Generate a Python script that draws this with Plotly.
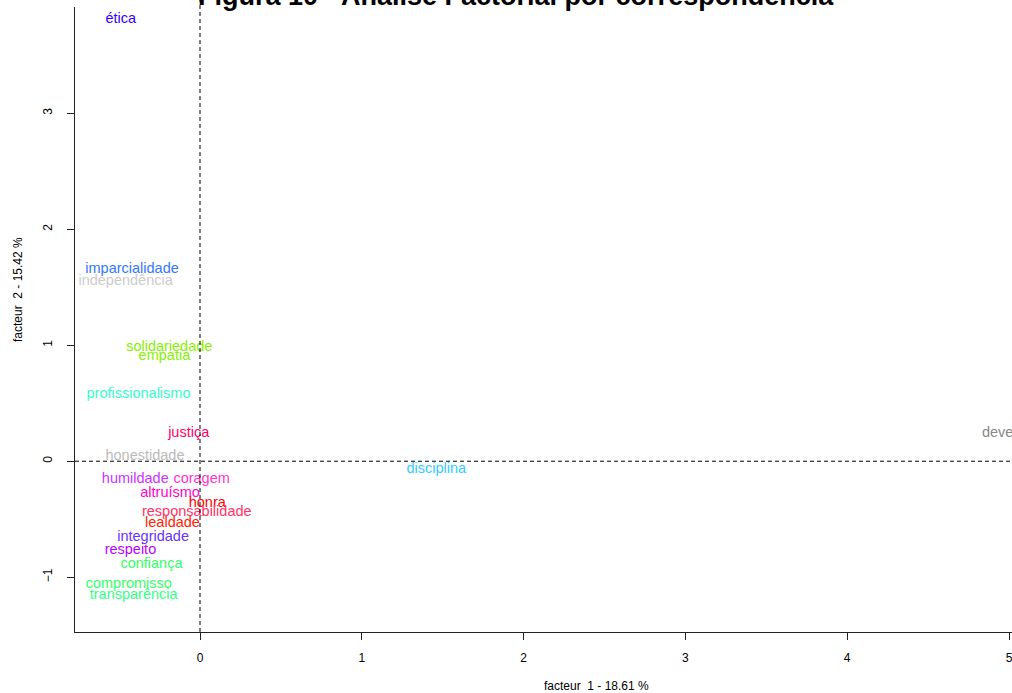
import plotly.graph_objects as go

# Data: word coordinates on the two factors
words = ["ética", "imparcialidade", "independência", "solidariedade", "empatia",
         "profissionalismo", "justiça", "honestidade", "deve", "disciplina",
         "humildade", "coragem", "altruísmo", "honra", "responsabilidade",
         "lealdade", "integridade", "respeito", "confiança", "compromisso",
         "transparência"]
factor1 = [-0.49, -0.42, -0.46, -0.19, -0.22,
           -0.38, -0.07, -0.34, 4.93, 1.46,
           -0.40, 0.01, -0.185, 0.045, -0.02,
           -0.17, -0.29, -0.43, -0.30, -0.44,
           -0.41]
factor2 = [3.81, 1.65, 1.55, 0.98, 0.905,
           0.58, 0.24, 0.04, 0.24, -0.07,
           -0.155, -0.155, -0.28, -0.36, -0.44,
           -0.54, -0.66, -0.77, -0.89, -1.06,
           -1.155]
word_colors = ["#3300FF", "#3377FF", "#CCCCCC", "#88F000", "#88F000",
               "#33FFCC", "#FF0066", "#BBBBBB", "#888888", "#33CCFF",
               "#CC33FF", "#FF33CC", "#FF00CC", "#FF0000", "#FF3366",
               "#FF2200", "#6633FF", "#BB00FF", "#33FF66", "#33FF66",
               "#33FF88"]

title_text = "Figura 10 - Análise Factorial por correspondência"
xlabel = "facteur  1 - 18.61 %"
ylabel = "facteur  2 - 15.42 %"
x_ticks = [0, 1, 2, 3, 4, 5]
y_ticks = [-1, 0, 1, 2, 3]

FONT = "Arial, Liberation Sans, sans-serif"

fig = go.Figure()
fig.add_trace(go.Scatter(
    x=factor1, y=factor2, mode="text", text=words,
    textposition="middle center",
    textfont=dict(family=FONT, size=14.5, color=word_colors),
    hoverinfo="text", showlegend=False, cliponaxis=False,
))

xr = [-0.7726, 5.0185]
yr = [-1.472, 3.915]

fig.add_shape(type="line", xref="x", yref="paper", x0=0, x1=0, y0=0, y1=1.02,
              line=dict(color="black", width=1, dash="4px,3px"))
fig.add_shape(type="line", xref="paper", yref="y", x0=0, x1=1, y0=0, y1=0,
              line=dict(color="black", width=1, dash="4px,3px"))

fig.update_layout(
    width=1012, height=693,
    margin=dict(l=75, r=0, t=7, b=61),
    plot_bgcolor="white", paper_bgcolor="white",
    font=dict(family=FONT, color="black"),
    xaxis=dict(range=xr, tickvals=x_ticks, showgrid=False, zeroline=False,
               showline=True, linecolor="#222222", linewidth=1,
               ticks="outside", ticklen=7, tickcolor="#222222",
               tickfont=dict(size=12, family=FONT), ticklabelstandoff=8,
               ticklabeloverflow="allow"),
    yaxis=dict(range=yr, tickvals=y_ticks, showgrid=False, zeroline=False,
               showline=True, linecolor="#222222", linewidth=1,
               ticks="outside", ticklen=7, tickcolor="#222222",
               tickangle=-90, tickfont=dict(size=12, family=FONT),
               ticklabelstandoff=10, ticklabeloverflow="allow"),
    annotations=[
        dict(text=title_text, xref="paper", yref="paper",
             x=(516 - 75) / 937, y=(632 - 13) / 625, xanchor="center",
             yanchor="bottom", showarrow=False,
             font=dict(size=27, family=FONT, color="black", weight="bold")),
        dict(text=xlabel, xref="paper", yref="paper",
             x=(596 - 75) / 937, y=(632 - 686) / 625, xanchor="center",
             yanchor="middle", showarrow=False,
             font=dict(size=12, family=FONT, color="black")),
        dict(text=ylabel, xref="paper", yref="paper",
             x=(18 - 75) / 937, y=(632 - 290) / 625, xanchor="center",
             yanchor="middle", showarrow=False, textangle=-90,
             font=dict(size=12, family=FONT, color="black")),
    ],
)

fig.write_html("out.html", config={"displayModeBar": False},
               post_script="document.body.style.margin='0';document.body.style.overflow='hidden';")
